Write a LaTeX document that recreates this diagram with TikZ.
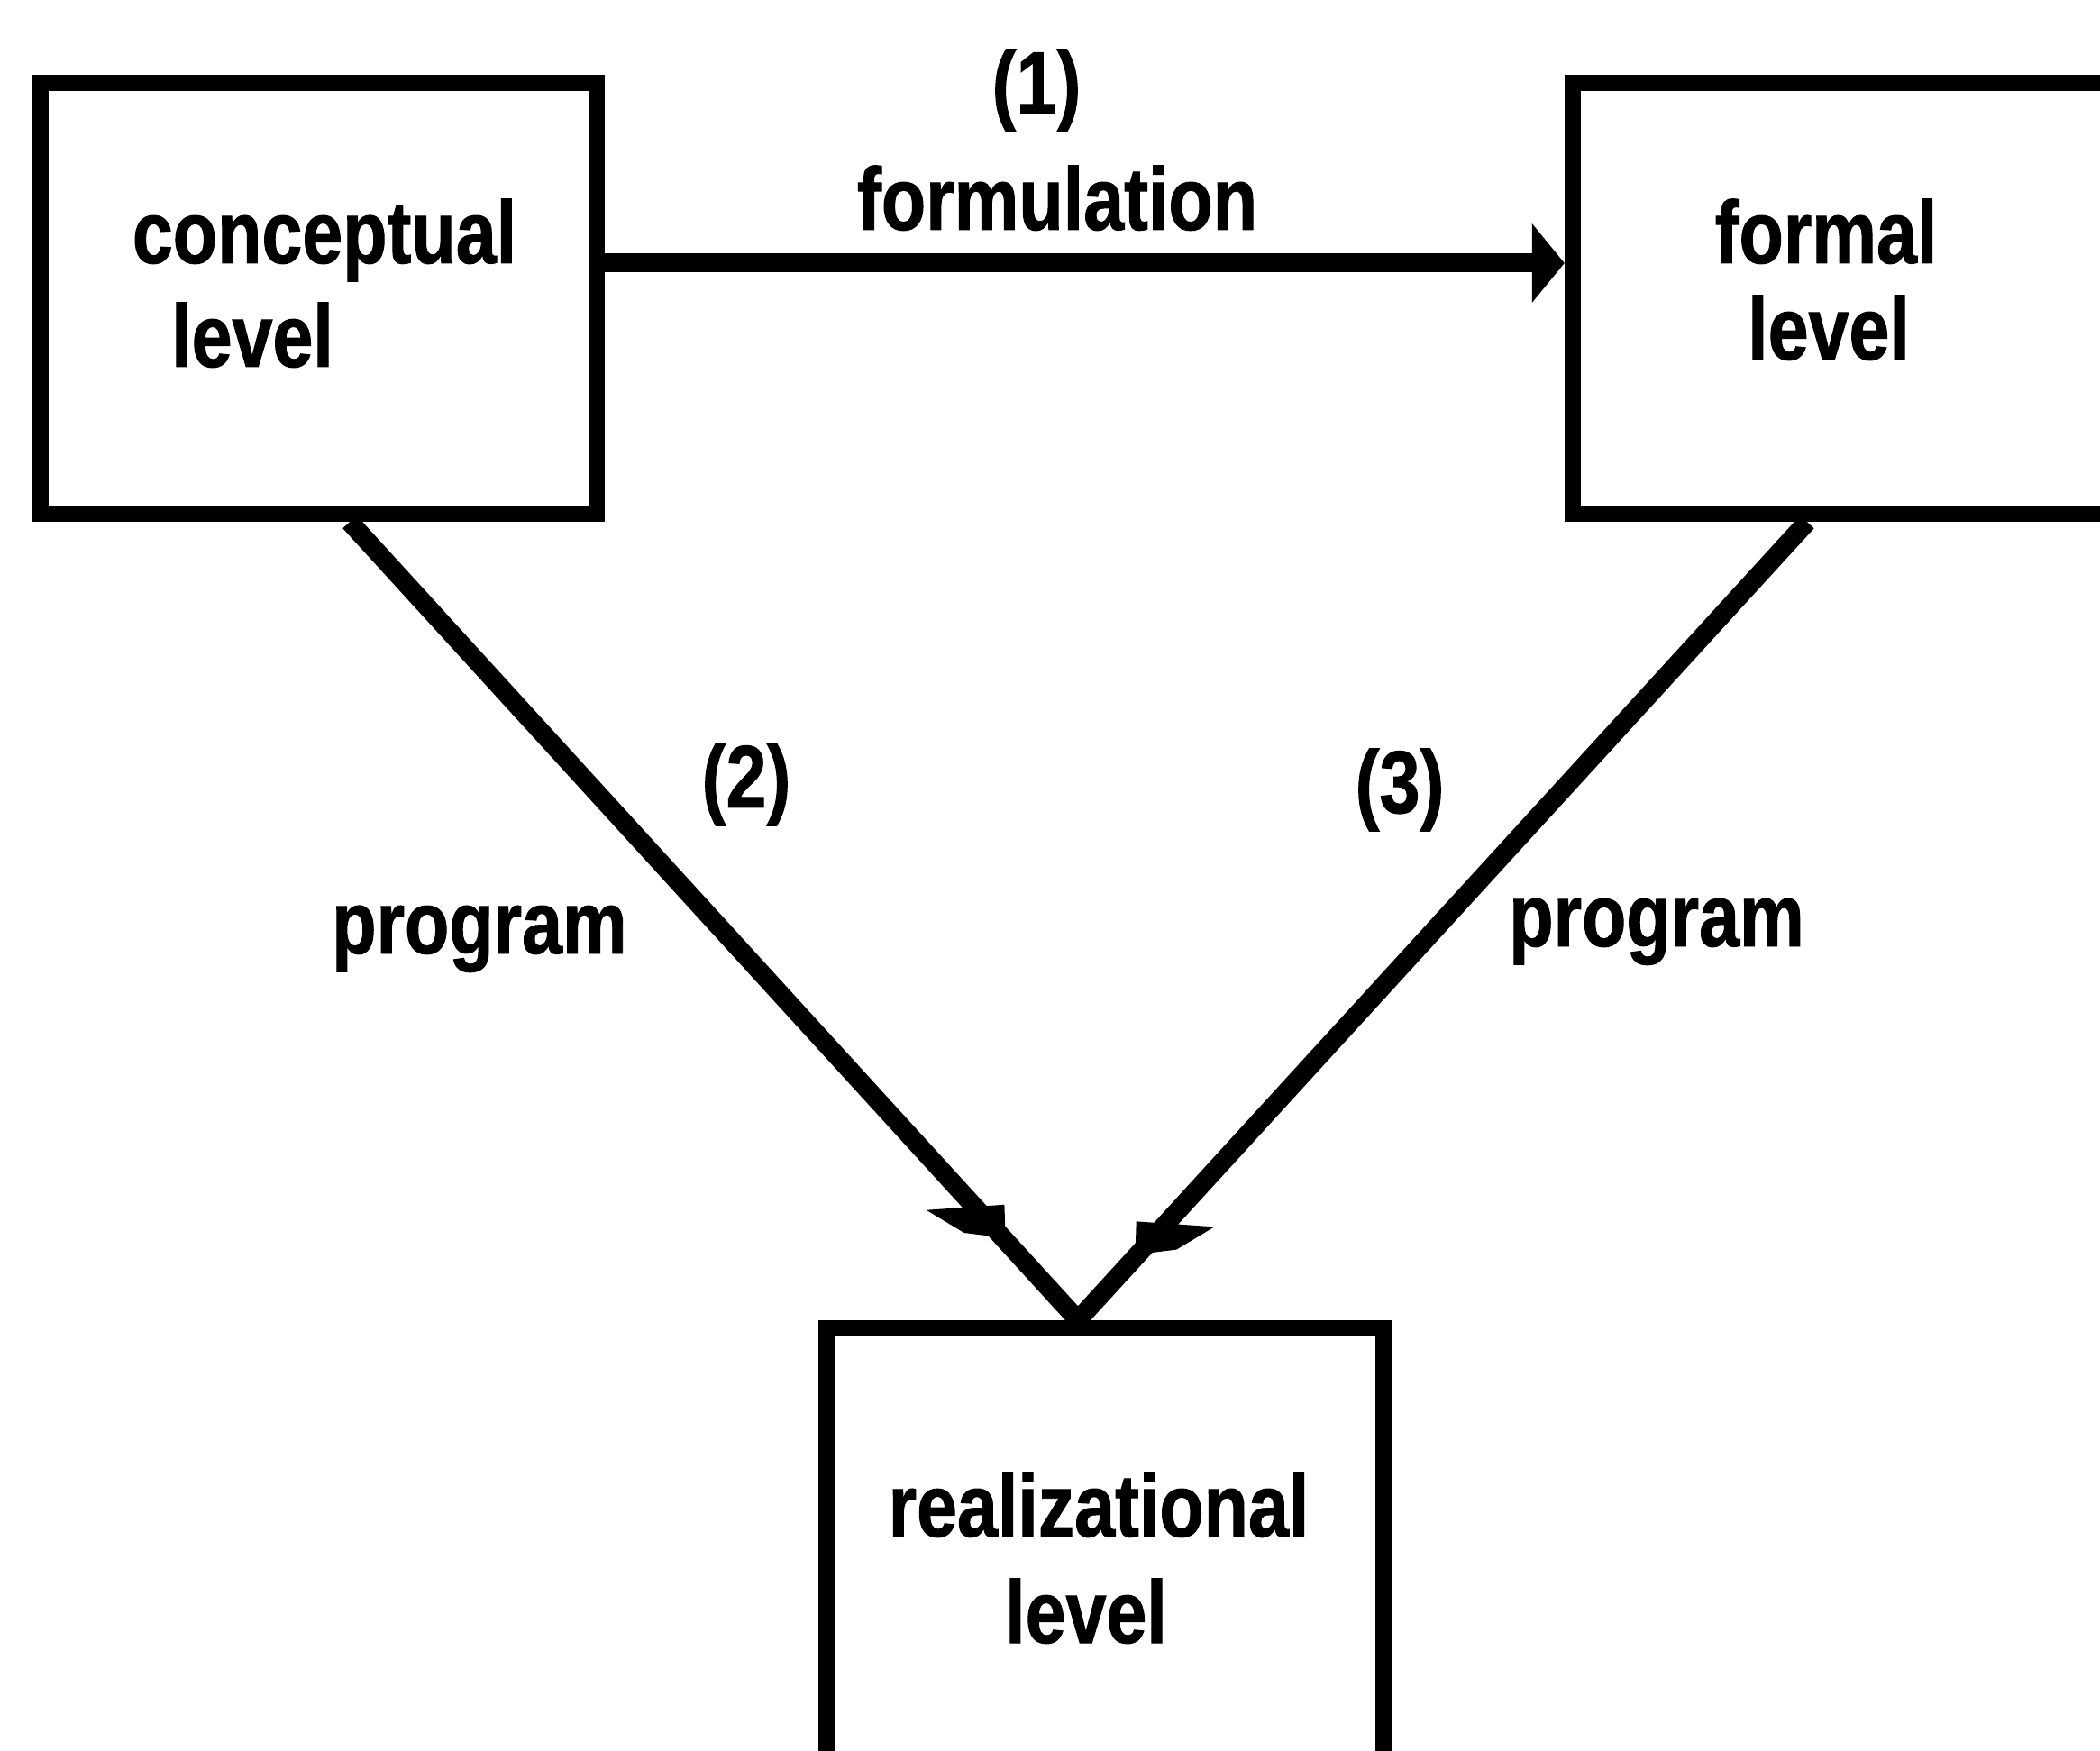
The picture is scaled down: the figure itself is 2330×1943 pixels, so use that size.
\documentclass[tikz,border=0pt]{standalone}
\usepackage{fontspec}
\newfontfamily\labelfont{Liberation Sans Bold}[FakeStretch=0.82,FakeBold=1]
\usetikzlibrary{arrows.meta,decorations.markings}
\begin{document}
\begin{tikzpicture}[x=0.01cm,y=-0.01cm,
  level box/.style={draw, rectangle, line width=0.18cm, inner sep=0pt},
  tag/.style={font=\labelfont\fontsize{28pt}{34pt}\selectfont, inner sep=0pt, anchor=base},
  link/.style={line width=0.21cm},
  head/.style={-{Triangle[length=0.36cm,width=0.86cm]}},
  % skewed barb placed along a line; #1 = position, #2 = +1/-1 for the side of the long barb
  midhead/.style 2 args={postaction={decorate},
    decoration={markings, mark=at position #1 with {%
      \fill (0.02cm,0.02cm*#2) -- (-0.33cm,-0.28cm*#2) -- (-0.80cm,-0.42cm*#2)
            -- (-0.26cm,0.26cm*#2) -- cycle;}}},
]
\useasboundingbox (0,0) rectangle (2330,1943);
\clip (0,0) rectangle (2330,1943);
\fill[white] (0,0) rectangle (2330,1943);

% the three levels
\node[level box, minimum width=6.17cm, minimum height=4.78cm] (concept) at (353.5,331) {};
\node[level box, minimum width=6.55cm, minimum height=4.78cm] (formal) at (2072.5,331) {};
\node[level box, minimum width=6.18cm, minimum height=6.26cm] (real) at (1226,1787) {};

% box captions
\node[tag] (conceptA) at (360,292) {conceptual};
\node[tag] (conceptB) at (280,407) {level};
\node[tag] (formalA) at (2026,292) {formal};
\node[tag] (formalB) at (2029,399) {level};
\node[tag] (realA) at (1219,1705) {realizational};
\node[tag] (realB) at (1205,1823) {level};

% connector labels
\node[tag] (numA) at (1150,126) {(1)};
\node[tag] (formul) at (1173,255) {formulation};
\node[tag] (numB) at (828,896) {(2)};
\node[tag] (progA) at (532,1058) {program};
\node[tag] (numC) at (1553,902) {(3)};
\node[tag] (progB) at (1838,1050) {program};

% connectors
\coordinate (meet) at ([xshift=2.88cm]real.north west);
\draw[link, head] ([yshift=0.39cm]concept.east) -- ([yshift=0.39cm]formal.west);
\draw[link, midhead={0.897}{1}] ([xshift=3.52cm]concept.south west) -- (meet);
\draw[link, midhead={0.918}{-1}] ([xshift=2.69cm]formal.south west) -- (meet);
\end{tikzpicture}
\end{document}
